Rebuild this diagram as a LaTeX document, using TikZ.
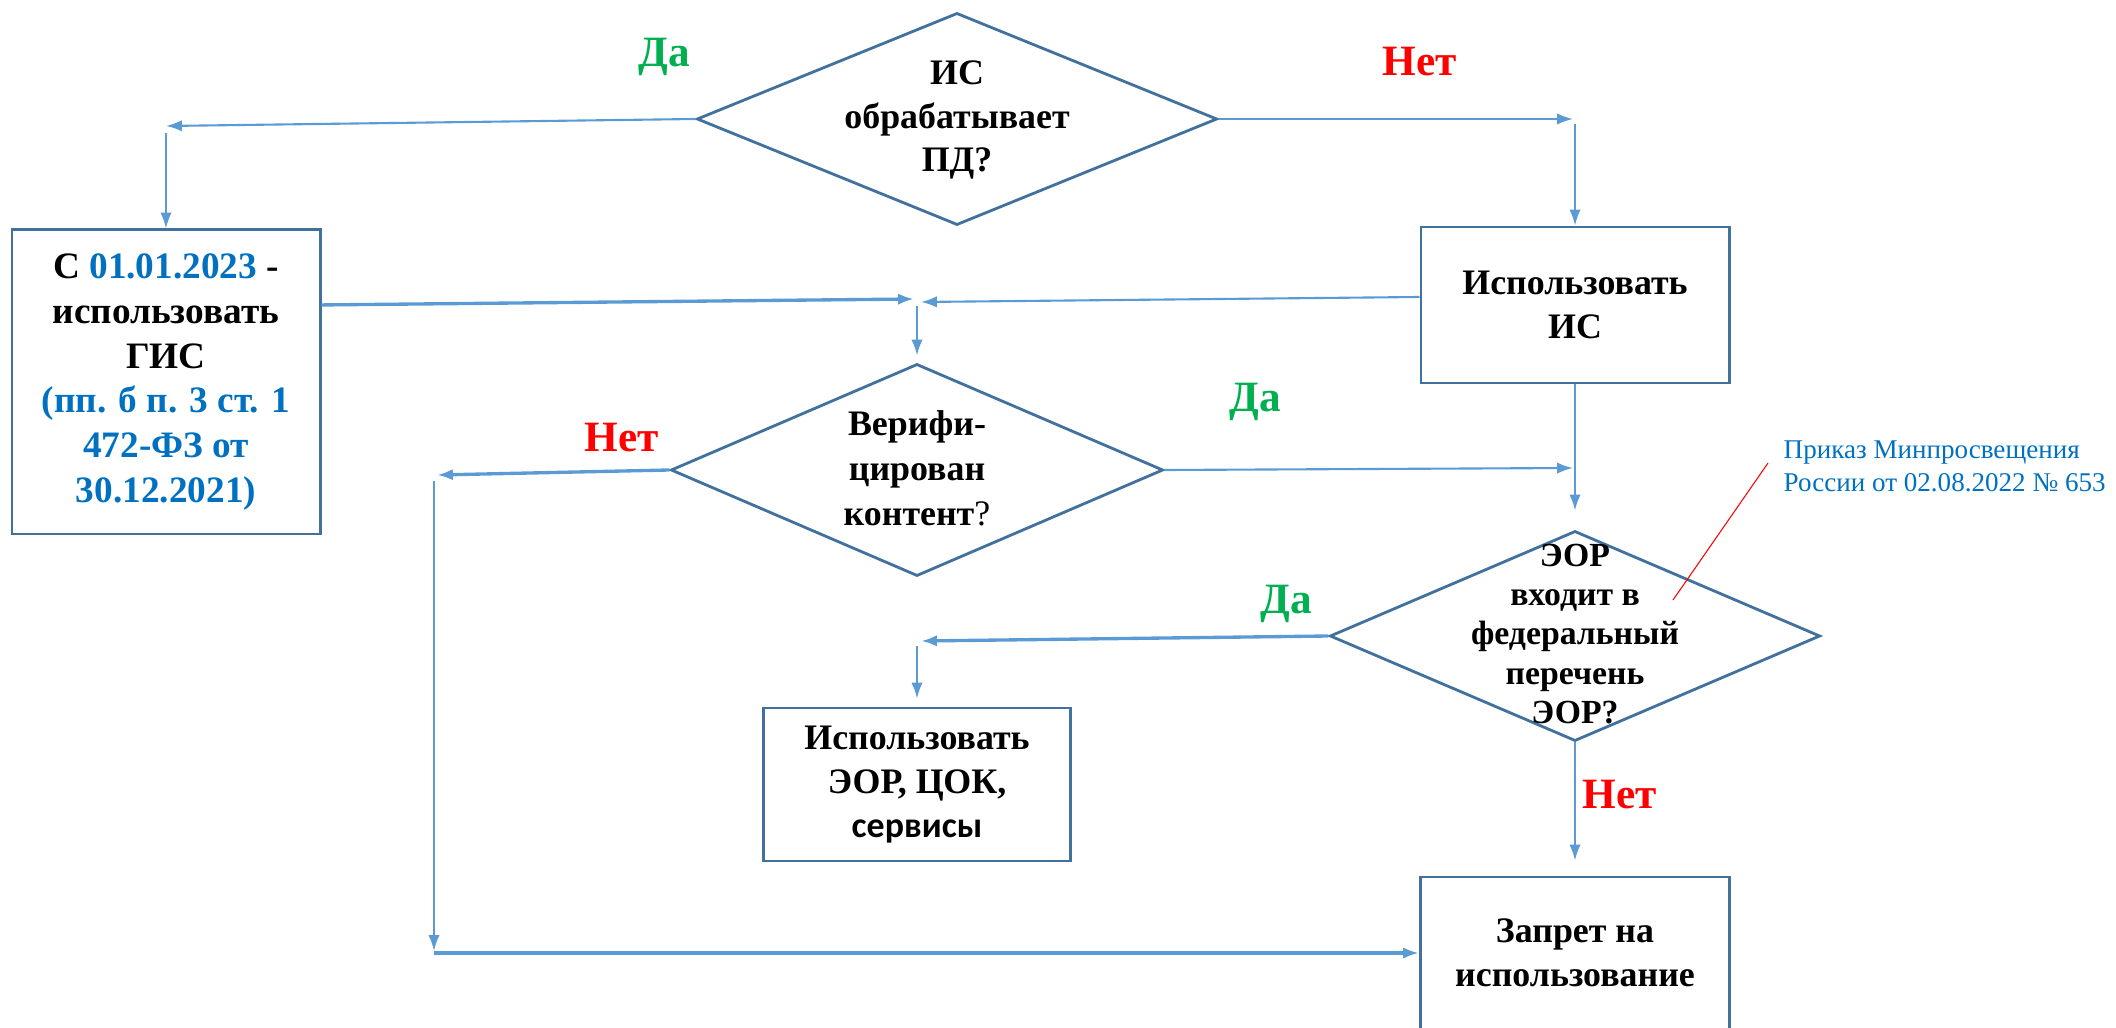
\documentclass[tikz,border=0pt]{standalone}
\usepackage{fontspec}
\setmainfont{Liberation Serif}
\newfontfamily\sansalt{Carlito}
\usetikzlibrary{arrows.meta,shapes.geometric,calc}
\definecolor{conn}{RGB}{91,155,213}
\definecolor{bord}{RGB}{65,113,156}
\definecolor{tblue}{RGB}{0,112,192}
\definecolor{tgreen}{RGB}{0,176,80}
\definecolor{tred}{RGB}{255,0,0}
\begin{document}
\begin{tikzpicture}[x=0.01cm,y=-0.01cm,
  box/.style={draw=bord,line width=0.8pt,rectangle,inner sep=0pt,align=center,
    font=\fontsize{10.2}{12.4}\selectfont\bfseries},
  dia/.style={draw=bord,line width=0.8pt,diamond,inner sep=0pt},
  txt/.style={align=center,inner sep=0pt,font=\fontsize{10.2}{12.4}\selectfont\bfseries},
  yes/.style={font=\fontsize{12.3}{14}\selectfont\bfseries,text=tgreen},
  no/.style={font=\fontsize{12.3}{14}\selectfont\bfseries,text=tred},
  arr/.style={draw=conn,line width=0.6pt,-{Latex[length=4.5pt,width=3.2pt]}},
  arrthick/.style={arr,line width=0.95pt},
]
\useasboundingbox (0,0) rectangle (2116,1028);
\clip (0,0) rectangle (2116,1028);

% decision 1
\node[dia,minimum width=5.2cm,minimum height=2.12cm] (d1) at (957,119) {};
\node[txt] (d1t) at (957,120) {ИС\\обрабатывает\\ПД?};

% box 1
\node[box,minimum width=3.08cm,minimum height=3.04cm,
  font=\fontsize{10.6}{12.7}\selectfont\bfseries] (b1) at (166,382)
  {С \textcolor{tblue}{01.01.2023} -\\использовать\\ГИС\\
   \textcolor{tblue}{(пп. б п. 3 ст. 1}\\\textcolor{tblue}{472-ФЗ от}\\\textcolor{tblue}{30.12.2021)}};

% box 2
\node[box,minimum width=3.08cm,minimum height=1.56cm] (b2) at (1575,305) {Использовать\\ИС};

% decision 2
\node[dia,minimum width=4.92cm,minimum height=2.12cm] (d2) at (917,470) {};
\node[txt,font=\fontsize{10.2}{12.8}\selectfont\bfseries] (d2t) at (917,468) {Верифи-\\цирован\\контент{\mdseries ?}};

% decision 3
\node[dia,minimum width=4.9cm,minimum height=2.1cm] (d3) at (1575,636) {};
\node[txt,font=\fontsize{9.6}{11.2}\selectfont\bfseries] (d3t) at (1575,634) {ЭОР\\входит в\\федеральный\\перечень\\ЭОР?};

% box 3
\node[box,minimum width=3.07cm,minimum height=1.53cm] (b3) at (917,784.5)
  {Использовать\\ЭОР, ЦОК,\\{\sansalt сервисы}};

% box 4
\node[box,minimum width=3.09cm,minimum height=1.52cm] (b4) at (1575,953)
  {Запрет на\\использование};

% labels
\node[yes] (l1) at (664,57) {Да};
\node[no]  (l2) at (1420,62) {Нет};
\node[no]  (l3) at (622,438) {Нет};
\node[yes] (l4) at (1255,402) {Да};
\node[yes] (l5) at (1286,604) {Да};
\node[no]  (l6) at (1620,795) {Нет};

% annotation
\node[anchor=west,align=left,inner sep=0pt,text=tblue,
  font=\fontsize{7.7}{9.4}\selectfont] (ann) at (1783,466)
  {Приказ Минпросвещения\\России от 02.08.2022 № 653};
\coordinate (r1) at (1768,463);
\coordinate (r2) at (1673,600);
\draw[tred,line width=0.3pt] (r1) -- (r2);

% coordinates
\coordinate (c1) at (166,126);
\coordinate (c1b) at (166,133);
\coordinate (j1) at (914,299);
\coordinate (j2) at (921,302);
\coordinate (j3) at (917,306);
\coordinate (c3) at (437,475);
\coordinate (c3b) at (434,481);
\coordinate (c4) at (434,951);
\coordinate (c4b) at (434,953);
\coordinate (c5) at (1573,468);
\coordinate (c6) at (1573,119);
\coordinate (c6b) at (1575,124);
\coordinate (c7) at (921,641);
\coordinate (c7b) at (917,646);

% connectors
\draw[arr] (d1.west) -- (c1);
\draw[arr] (c1b) -- (b1.north);
\draw[arrthick] ([yshift=0.77cm]b1.east) -- (j1);
\draw[arr] ([yshift=0.08cm]b2.west) -- (j2);
\draw[arr,shorten >=0.07cm] (j3) -- (d2.north);
\draw[arrthick] (d2.west) -- (c3);
\draw[arr] (c3b) -- (c4);
\draw[arrthick] (c4b) -- (b4.west);
\draw[arr] (d2.east) -- (c5);
\draw[arr] (d1.east) -- (c6);
\draw[arr] (c6b) -- (b2.north);
\draw[arr,shorten >=0.19cm] (b2.south) -- (d3.north);
\draw[arrthick] (d3.west) -- (c7);
\draw[arr,shorten >=0.08cm] (c7b) -- (b3.north);
\draw[arr,shorten >=0.15cm] (d3.south) -- (b4.north);
\end{tikzpicture}
\end{document}
